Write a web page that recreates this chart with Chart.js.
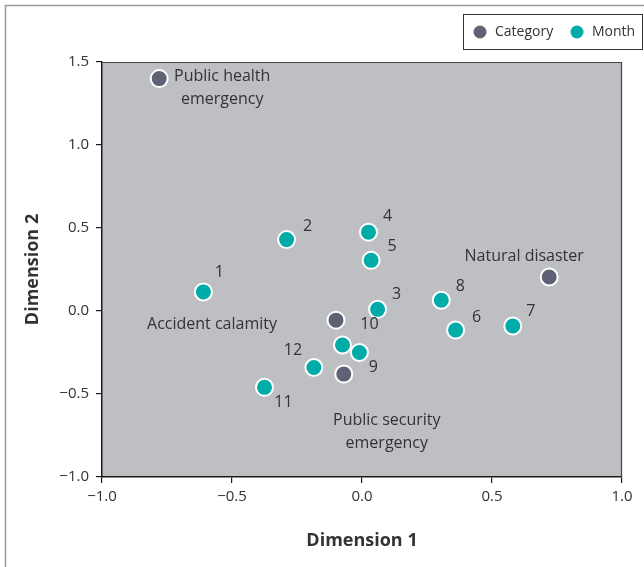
<!DOCTYPE html>
<html>
<head>
<meta charset="utf-8">
<script src="https://cdn.jsdelivr.net/npm/chart.js@4"></script>
<style>
html,body{margin:0;padding:0;background:#fff;}
#wrap{width:644px;height:567px;position:relative;}
</style>
</head>
<body>
<div id="wrap"><canvas id="c" width="644" height="567"></canvas></div>
<script>
// Category points
const categoryNames = ["Public health\nemergency", "Natural disaster", "Accident calamity", "Public security\nemergency"];
const categoryX = [-0.78, 0.72, -0.10, -0.07];
const categoryY = [1.40, 0.205, -0.055, -0.38];
// Month points
const monthNames = ["1","2","3","4","5","6","7","8","9","10","11","12"];
const monthX = [-0.61, -0.29, 0.06, 0.025, 0.035, 0.36, 0.58, 0.305, -0.01, -0.075, -0.375, -0.185];
const monthY = [0.115, 0.43, 0.01, 0.475, 0.305, -0.115, -0.09, 0.065, -0.25, -0.205, -0.46, -0.34];
// Axis ticks
const xTicks = [-1.0, -0.5, 0.0, 0.5, 1.0];
const yTicks = [-1.0, -0.5, 0.0, 0.5, 1.0, 1.5];

// Label placement (pixel offsets from point centre)
const categoryLabelOffsets = [[63, 9.5], [-25, -21], [-124, 4], [43, 57.5]];
const monthLabelOffsets = [[16,-19],[21,-13],[19,-15],[19,-16],[21,-14],[21,-13],[18,-15],[19,-14],[14,15],[27,-21],[19,15],[-21,-17]];

const FONT = "'Open Sans', sans-serif";
const TEAL = "#00aba8";
const SLATE = "#5f6275";
const TXT = "#333333";

const fmt = v => (v < 0 ? "\u2212" : "") + Math.abs(v).toFixed(1);

const bgPlugin = {
  id: 'bgPlugin',
  beforeDraw(chart) {
    const {ctx, chartArea: a} = chart;
    ctx.save();
    ctx.fillStyle = '#fff';
    ctx.fillRect(0, 0, chart.width, chart.height);
    ctx.strokeStyle = '#9a9a9a';
    ctx.lineWidth = 1.5;
    ctx.strokeRect(5.5, 5.5, chart.width + 20, chart.height + 20);
    ctx.fillStyle = '#bebfc3';
    ctx.fillRect(a.left, a.top, a.right - a.left, a.bottom - a.top);
    ctx.restore();
  },
  afterDatasetsDraw(chart) {
    const {ctx, chartArea: a} = chart;
    ctx.save();
    ctx.strokeStyle = '#444';
    ctx.lineWidth = 1.2;
    ctx.beginPath();
    ctx.moveTo(a.left, a.top + 0.5); ctx.lineTo(a.right - 0.5, a.top + 0.5); ctx.lineTo(a.right - 0.5, a.bottom);
    ctx.stroke();
    ctx.fillStyle = TXT;
    ctx.font = "16px " + FONT;
    ctx.textAlign = 'center';
    ctx.textBaseline = 'middle';
    const drawLabels = (dsIndex, names, offs) => {
      const meta = chart.getDatasetMeta(dsIndex);
      meta.data.forEach((pt, i) => {
        const lines = names[i].split("\n");
        const x = pt.x + offs[i][0];
        const y0 = pt.y + offs[i][1] - (lines.length - 1) * 11.5;
        lines.forEach((ln, j) => ctx.fillText(ln, x, y0 + j * 23));
      });
    };
    drawLabels(0, categoryNames, categoryLabelOffsets);
    drawLabels(1, monthNames, monthLabelOffsets);
    // legend
    const lx = 463, ly = 14, lw = 179, lh = 35;
    ctx.font = "14px " + FONT;
    ctx.strokeStyle = '#333';
    ctx.lineWidth = 1;
    ctx.fillStyle = '#fff';
    ctx.fillRect(lx + 0.5, ly + 0.5, lw, lh);
    ctx.strokeRect(lx + 0.5, ly + 0.5, lw, lh);
    const items = chart.data.datasets.map(d => [d.label, d.backgroundColor]);
    let cx = 480;
    const cy = ly + lh / 2 + 0.5;
    ctx.textAlign = 'left';
    items.forEach(([label, col]) => {
      ctx.fillStyle = col;
      ctx.beginPath(); ctx.arc(cx, cy, 6.5, 0, Math.PI * 2); ctx.fill();
      ctx.fillStyle = TXT;
      ctx.fillText(label, cx + 15, cy);
      cx += 97;
    });
    ctx.restore();
  }
};

new Chart(document.getElementById('c'), {
  type: 'scatter',
  data: {
    datasets: [
      {
        label: 'Category',
        data: categoryX.map((x, i) => ({x, y: categoryY[i]})),
        backgroundColor: SLATE,
        borderColor: '#ffffff',
        borderWidth: 2,
        pointRadius: 8.5,
        pointHoverRadius: 8.5
      },
      {
        label: 'Month',
        data: monthX.map((x, i) => ({x, y: monthY[i]})),
        backgroundColor: TEAL,
        borderColor: '#ffffff',
        borderWidth: 2,
        pointRadius: 8.5,
        pointHoverRadius: 8.5
      }
    ]
  },
  options: {
    responsive: false,
    animation: false,
    devicePixelRatio: 1,
    layout: {padding: {top: 62, right: 22, left: 0, bottom: 0}},
    plugins: {legend: {display: false}, tooltip: {enabled: false}},
    scales: {
      x: {
        type: 'linear', min: -1, max: 1,
        afterBuildTicks: s => { s.ticks = xTicks.map(v => ({value: v})); },
        afterFit: s => { s.height = 90; },
        border: {display: true, color: '#1a1a1a', width: 1.5},
        grid: {display: true, drawOnChartArea: false, drawTicks: true, tickLength: 6, color: '#1a1a1a', lineWidth: 1.2},
        ticks: {callback: v => fmt(v), color: TXT, font: {family: FONT, size: 15}, padding: 5, maxRotation: 0},
        title: {display: true, text: 'Dimension 1', color: TXT, font: {family: FONT, size: 18, weight: 'bold'}, padding: {top: 0, bottom: 15}}
      },
      y: {
        type: 'linear', min: -1, max: 1.5,
        afterBuildTicks: s => { s.ticks = yTicks.map(v => ({value: v})); },
        afterFit: s => { s.width = 102; },
        border: {display: true, color: '#1a1a1a', width: 1.5},
        grid: {display: true, drawOnChartArea: false, drawTicks: true, tickLength: 6, color: '#1a1a1a', lineWidth: 1.2},
        ticks: {callback: v => fmt(v), color: TXT, font: {family: FONT, size: 15}, padding: 7},
        title: {display: true, text: 'Dimension 2', color: TXT, font: {family: FONT, size: 18, weight: 'bold'}, padding: {top: 22, bottom: 0}}
      }
    }
  },
  plugins: [bgPlugin]
});
</script>
</body>
</html>
